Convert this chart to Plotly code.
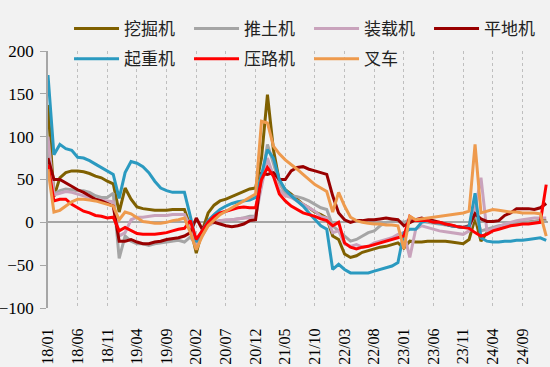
import plotly.graph_objects as go

# 85 monthly categories 18/01 .. 25/01
months = [f"{y:02d}/{m:02d}" for y in range(18, 26) for m in range(1, 13)][:85]
tick_labels = ["18/01", "18/06", "18/11", "19/04", "19/09", "20/02", "20/07", "20/12",
               "21/05", "21/10", "22/03", "22/08", "23/01", "23/06", "23/11", "24/04", "24/09"]
y_ticks = [-100, -50, 0, 50, 100, 150, 200]

excavator = [137, 30, 52, 58, 60, 60, 59, 57, 54, 52,
             48, 45, 12, 40, 27, 18, 16, 15, 14, 14,
             14, 15, 15, 15, -5, -36, -10, 11, 20, 25,
             27, 30, 33, 36, 39, 40, 75, 149, 85, 48,
             38, 33, 27, 21, 17, 12, 9, 5, -16, -20,
             -37, -41, -39, -35, -33, -31, -29, -28, -26, -24,
             -30, -22, -23, -23, -22, -22, -22, -22, -23, -24,
             -25, -20, 5, -22, -12, -8, -6, -4, -3, -1,
             0, 0, 1, 2, 2]
bulldozer = [90, 33, 37, 39, 38, 37, 37, 35, 31, 29,
             29, 34, -42, -16, -22, -25, -25, -27, -25, -24,
             -23, -22, -21, -23, -17, -27, -12, -4, 0, 2,
             2, 3, 4, 5, 7, 7, 50, 91, 69, 46,
             34, 31, 30, 28, 25, 21, 17, 15, -4, -10,
             -16, -22, -20, -16, -12, -10, -4, 0, 1, 1,
             0, 3, 2, 1, 0, -1, -2, -3, -4, -5,
             -6, -6, 10, -10, -8, -6, -4, -3, -2, -1,
             0, 0, 1, 1, 1]
loader = [100, 32, 34, 36, 35, 33, 31, 29, 27, 26,
          25, 24, -16, -12, 3, 6, 6, 7, 8, 8,
          8, 9, 9, 9, -5, -25, -16, -4, 0, 2,
          3, 3, 4, 5, 5, 7, 42, 75, 54, 38,
          31, 29, 25, 21, 17, 13, 7, 5, -12, -10,
          -25, -28, -26, -29, -28, -24, -22, -20, -18, -14,
          -12, -41, -8, -4, -6, -8, -10, -11, -12, -13,
          -14, -10, 15, 52, -10, -8, -5, -2, 0, 2,
          3, 4, 5, 5, 5]
grader = [75, 50, 50, 46, 42, 38, 35, 31, 27, 25,
          22, 19, -22, -22, -20, -23, -25, -25, -23, -22,
          -20, -19, -18, -16, -12, 5, -8, 1, 0, -2,
          -4, -5, -4, -2, 2, 3, 57, 56, 58, 50,
          50, 60, 64, 65, 62, 60, 58, 56, 31, 11,
          3, 0, 2, 2, 3, 3, 4, 5, 4, 3,
          -4, 0, 3, 5, 3, 2, 0, -2, -4, -5,
          -6, -4, 10, 4, 1, 1, 2, 8, 11, 16,
          16, 16, 15, 17, 22]
crane = [172, 79, 91, 86, 84, 76, 75, 72, 68, 64,
         60, 56, 28, 58, 71, 69, 65, 58, 48, 40,
         37, 35, 35, 35, 7, -23, -10, 2, 9, 15,
         19, 22, 24, 25, 26, 29, 55, 85, 75, 50,
         38, 31, 25, 19, 11, 3, -4, -8, -55, -49,
         -55, -59, -59, -59, -59, -57, -55, -53, -51, -47,
         -12, -8, -8, 0, 2, 0, -1, -2, -4, -5,
         -6, -5, 34, -18, -22, -23, -23, -22, -22, -21,
         -21, -20, -19, -18, -21]
roller = [67, 25, 27, 27, 21, 17, 13, 11, 8, 7,
          5, 6, -10, -6, -10, -13, -14, -14, -14, -13,
          -12, -10, -8, -7, 2, -20, -10, 0, 7, 11,
          13, 15, 17, 18, 17, 17, 50, 64, 54, 33,
          25, 19, 15, 11, 9, 7, 4, 2, -4, 0,
          -24, -29, -31, -29, -28, -26, -24, -22, -20, -18,
          -16, 7, 2, 2, 2, 0, 0, -2, -3, -5,
          -6, -7, -12, -16, -14, -10, -8, -6, -4, -3,
          -2, -2, -1, 0, 44]
forklift = [62, 12, 14, 19, 24, 27, 27, 26, 25, 23,
            21, 19, 3, 12, 10, 5, 1, 0, -1, -1,
            0, 2, 3, 5, -12, -32, -16, -4, 3, 9,
            13, 17, 21, 25, 29, 33, 118, 116, 89, 80,
            73, 68, 62, 56, 50, 44, 40, 36, 12, 35,
            19, 6, 2, 0, -1, -2, -2, -3, -3, -4,
            -31, 7, 3, 4, 5, 6, 7, 8, 9, 10,
            11, 13, 91, 11, 13, 15, 14, 13, 12, 12,
            11, 11, 11, 10, -16]

names = ["挖掘机", "推土机", "装载机", "平地机", "起重机", "压路机", "叉车"]
series = [excavator, bulldozer, loader, grader, crane, roller, forklift]
colors = ["#7F6000", "#A5A5A5", "#C9A3BC", "#990000", "#2B9AC0", "#FF0000", "#EE9A4D"]
legends = ["legend", "legend", "legend", "legend", "legend2", "legend2", "legend2"]

fig = go.Figure()
for n, s, c, lg in zip(names, series, colors, legends):
    fig.add_trace(go.Scatter(x=months, y=s, mode="lines", name=n,
                             line=dict(color=c, width=3), legend=lg))

serif = "Liberation Serif, Times New Roman, serif"
cjk = "Noto Sans CJK SC"
legend_common = dict(orientation="h", xanchor="left", yanchor="middle",
                     xref="container", yref="container",
                     bgcolor="rgba(0,0,0,0)", entrywidth=60, entrywidthmode="pixels",
                     itemwidth=45, font=dict(family=cjk, size=17, color="#222"),
                     tracegroupgap=0)

fig.update_layout(
    width=550, height=367,
    margin=dict(l=48, r=2, t=51, b=59, autoexpand=False),
    paper_bgcolor="#F2F2F2", plot_bgcolor="#F2F2F2",
    showlegend=True,
    legend=dict(x=0.1255, y=0.921, **legend_common),
    legend2=dict(x=0.1255, y=0.839, **legend_common),
    xaxis=dict(type="category", tickmode="array", tickvals=tick_labels, ticktext=tick_labels,
               tickangle=-90, range=[0, 84.3], showgrid=True, gridcolor="#BFBFBF",
               griddash="dot", gridwidth=1, showline=False, automargin=False,
               ticks="outside", ticklen=13, tickcolor="rgba(0,0,0,0)", zeroline=False,
               tickfont=dict(family=serif, size=16, color="#000")),
    yaxis=dict(range=[-100, 200], tickmode="array", tickvals=y_ticks, showgrid=False,
               zeroline=True, zerolinecolor="#A6A6A6", zerolinewidth=1.5,
               showline=True, linecolor="#A6A6A6", linewidth=1.5, automargin=False,
               ticks="outside", ticklen=6, tickcolor="#A6A6A6",
               tickfont=dict(family=serif, size=17, color="#000"), ticklabelstandoff=3),
)

fig.write_html("out.html", config={"displayModeBar": False},
               post_script="document.body.style.margin='0';document.body.style.background='#F2F2F2';")
